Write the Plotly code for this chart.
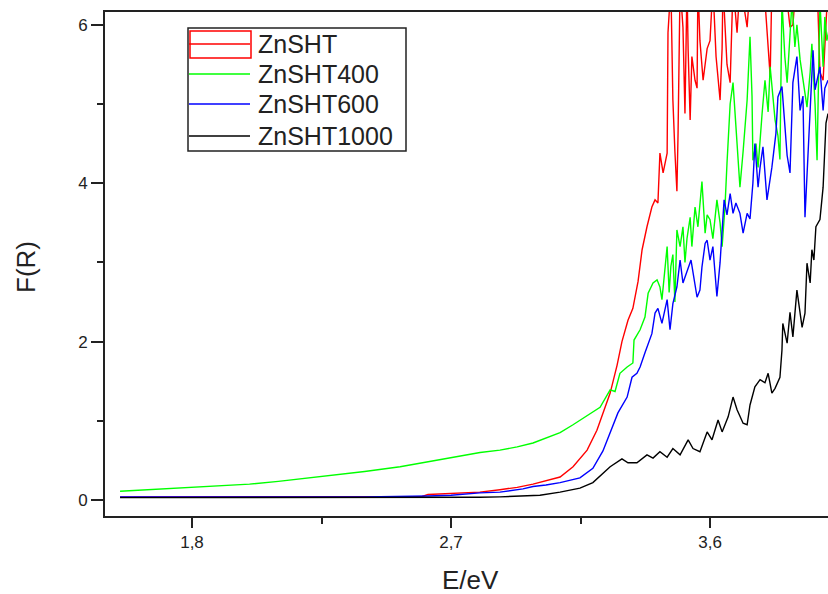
import plotly.graph_objects as go

# Kubelka-Munk function F(R) versus photon energy for the four ZnS samples
e_znsht = [1.55, 2.00, 2.40, 2.60, 2.62, 2.70, 2.80, 2.87, 2.93, 2.985, 3.03, 3.079, 3.124, 3.173,
           3.207, 3.228, 3.253, 3.277, 3.294, 3.315, 3.332, 3.350, 3.364, 3.381, 3.398, 3.409, 3.419,
           3.426, 3.437, 3.451, 3.454, 3.464, 3.471, 3.478, 3.485, 3.489, 3.496, 3.506, 3.513, 3.520,
           3.524, 3.531, 3.537, 3.548, 3.555, 3.558, 3.565, 3.576, 3.583, 3.590, 3.600, 3.610, 3.621,
           3.635, 3.642, 3.645, 3.652, 3.659, 3.670, 3.680, 3.687, 3.694, 3.704, 3.715, 3.729, 3.739,
           3.756, 3.774, 3.791, 3.798, 3.809, 3.815, 3.833, 3.850, 3.868, 3.878, 3.888, 3.899, 3.913,
           3.948, 3.965, 3.975, 3.982, 3.993, 3.999, 4.010]
f_znsht = [0.04, 0.04, 0.04, 0.045, 0.07, 0.08, 0.10, 0.13, 0.16, 0.20, 0.24, 0.29, 0.42, 0.63,
           0.88, 1.1, 1.35, 1.7, 2.0, 2.27, 2.42, 2.76, 3.16, 3.45, 3.7, 3.79, 3.75,
           4.38, 4.13, 4.38, 5.9, 6.5, 5.05, 4.4, 3.9, 4.63, 6.5, 5.97, 4.88, 6.5,
           5.68, 4.8, 5.6, 5.3, 5.2, 6.5, 5.8, 5.3, 5.5, 5.7, 5.8, 6.5, 5.6,
           5.05, 5.7, 6.5, 6.0, 5.5, 5.27, 6.5, 6.2, 5.9, 6.5, 6.3, 5.97, 6.5,
           6.6, 6.4, 6.3, 5.9, 5.35, 6.5, 6.6, 6.5, 6.3, 5.97, 6.0, 6.5, 6.7,
           6.6, 6.5, 6.2, 5.4, 5.3, 5.8, 6.5]

e_znsht400 = [1.55, 1.65, 1.758, 1.90, 2.00, 2.10, 2.175, 2.30, 2.40, 2.523, 2.62, 2.70, 2.755, 2.801,
              2.870, 2.93, 2.985, 3.03, 3.079, 3.124, 3.173, 3.218, 3.253, 3.270, 3.287, 3.312, 3.332,
              3.336, 3.357, 3.374, 3.385, 3.402, 3.416, 3.426, 3.433, 3.444, 3.451, 3.458, 3.464, 3.471,
              3.478, 3.485, 3.496, 3.506, 3.513, 3.520, 3.531, 3.537, 3.548, 3.558, 3.572, 3.583, 3.590,
              3.600, 3.610, 3.624, 3.635, 3.642, 3.652, 3.659, 3.670, 3.680, 3.687, 3.694, 3.704, 3.715,
              3.729, 3.739, 3.746, 3.749, 3.760, 3.767, 3.774, 3.781, 3.791, 3.802, 3.809, 3.819, 3.826,
              3.836, 3.843, 3.850, 3.860, 3.868, 3.878, 3.885, 3.895, 3.902, 3.913, 3.923, 3.937, 3.948,
              3.954, 3.965, 3.972, 3.982, 3.993, 3.999, 4.006, 4.017]
f_znsht400 = [0.11, 0.13, 0.155, 0.18, 0.20, 0.235, 0.265, 0.32, 0.36, 0.42, 0.48, 0.53, 0.57, 0.60,
              0.63, 0.67, 0.72, 0.78, 0.85, 0.95, 1.07, 1.17, 1.39, 1.37, 1.6, 1.68, 1.73,
              2.02, 2.15, 2.31, 2.61, 2.74, 2.78, 2.69, 2.53, 2.99, 3.2, 2.62, 2.95, 3.1,
              2.5, 3.41, 3.2, 3.45, 3.0, 3.3, 3.57, 3.2, 3.7, 3.45, 4.02, 3.37, 3.6,
              3.54, 3.3, 3.79, 3.5, 3.2, 3.7, 4.25, 5.0, 5.27, 4.9, 4.55, 3.95, 4.4,
              5.05, 5.85, 5.1, 4.29, 4.5, 4.2, 4.6, 4.88, 5.3, 4.9, 5.47, 5.1, 4.8,
              4.6, 4.3, 6.3, 5.6, 5.27, 5.8, 6.3, 5.72, 6.0, 5.56, 5.3, 4.96, 5.4,
              5.76, 5.0, 4.29, 6.3, 5.47, 6.1, 5.8, 6.0]

e_znsht600 = [1.55, 2.00, 2.40, 2.62, 2.70, 2.80, 2.87, 2.95, 2.985, 3.03, 3.079, 3.148, 3.193, 3.228,
              3.253, 3.280, 3.312, 3.329, 3.346, 3.357, 3.374, 3.385, 3.398, 3.409, 3.419, 3.433, 3.451,
              3.461, 3.471, 3.485, 3.496, 3.506, 3.520, 3.534, 3.555, 3.565, 3.572, 3.583, 3.590, 3.600,
              3.610, 3.624, 3.635, 3.649, 3.659, 3.670, 3.680, 3.690, 3.704, 3.715, 3.729, 3.739, 3.749,
              3.756, 3.767, 3.774, 3.784, 3.798, 3.815, 3.829, 3.836, 3.850, 3.868, 3.878, 3.888, 3.902,
              3.913, 3.923, 3.930, 3.948, 3.958, 3.965, 3.982, 3.993, 3.999, 4.010]
f_znsht600 = [0.04, 0.04, 0.04, 0.05, 0.06, 0.09, 0.10, 0.14, 0.17, 0.19, 0.22, 0.28, 0.40, 0.62,
              0.86, 1.1, 1.3, 1.55, 1.6, 1.68, 1.86, 1.98, 2.1, 2.36, 2.42, 2.23, 2.53,
              2.15, 2.48, 2.69, 3.03, 2.74, 2.9, 3.03, 2.56, 2.65, 2.94, 3.24, 3.28, 3.03,
              3.2, 2.57, 3.0, 3.79, 3.6, 3.87, 3.62, 3.75, 3.62, 3.37, 3.62, 3.55, 4.0,
              4.5, 3.95, 4.2, 4.46, 3.79, 4.2, 4.63, 5.09, 5.22, 4.35, 4.13, 5.27, 5.6,
              4.92, 5.1, 3.57, 5.05, 5.68, 5.18, 5.47, 4.92, 5.2, 5.3]

e_znsht1000 = [1.55, 2.00, 2.50, 2.80, 2.87, 2.95, 3.009, 3.079, 3.148, 3.193, 3.228, 3.253, 3.294, 3.315,
               3.346, 3.381, 3.402, 3.426, 3.451, 3.471, 3.496, 3.524, 3.541, 3.565, 3.590, 3.607, 3.628,
               3.642, 3.663, 3.680, 3.694, 3.715, 3.729, 3.739, 3.756, 3.774, 3.791, 3.802, 3.815, 3.826,
               3.843, 3.850, 3.853, 3.868, 3.878, 3.888, 3.902, 3.920, 3.930, 3.937, 3.948, 3.954, 3.961,
               3.968, 3.982, 3.993, 4.003, 4.010]
f_znsht1000 = [0.03, 0.03, 0.03, 0.035, 0.04, 0.05, 0.06, 0.10, 0.15, 0.22, 0.33, 0.42, 0.52, 0.47,
               0.47, 0.57, 0.53, 0.61, 0.54, 0.65, 0.57, 0.76, 0.65, 0.61, 0.86, 0.76, 1.01,
               0.86, 1.05, 1.3, 1.14, 0.97, 0.95, 1.2, 1.43, 1.52, 1.48, 1.6, 1.35, 1.41,
               1.55, 1.89, 2.23, 1.98, 2.37, 2.06, 2.65, 2.18, 2.36, 2.99, 2.74, 3.16, 3.03,
               3.45, 3.54, 3.95, 4.76, 4.88]

series_names = ["ZnSHT", "ZnSHT400", "ZnSHT600", "ZnSHT1000"]
series_colors = ["#ff0000", "#00ff00", "#0000ff", "#000000"]
series_data = [(e_znsht, f_znsht), (e_znsht400, f_znsht400),
               (e_znsht600, f_znsht600), (e_znsht1000, f_znsht1000)]

x_ticks = [1.8, 2.7, 3.6]
x_tick_labels = ["1,8", "2,7", "3,6"]
y_ticks = [0, 2, 4, 6]
y_tick_labels = ["0", "2", "4", "6"]

W, H = 828, 594
ML, MR, MT, MB = 105, 0, 12, 78
PW, PH = W - ML - MR, H - MT - MB


def px_x(p):
    return (p - ML) / PW


def px_y(p):
    return (H - MB - p) / PH


fig = go.Figure()
for (e, f), name, col in zip(series_data, series_names, series_colors):
    assert len(e) == len(f)
    fig.add_trace(go.Scatter(x=e, y=f, mode="lines", name=name,
                             line=dict(color=col, width=1.4), showlegend=False,
                             hoverinfo="skip"))

axis_col = "#222222"
font_family = "Liberation Sans, Arial, sans-serif"

fig.update_layout(
    width=W, height=H, autosize=False,
    margin=dict(l=ML, r=MR, t=MT, b=MB, pad=0),
    paper_bgcolor="white", plot_bgcolor="white",
    xaxis=dict(range=[1.4977, 4.010], showgrid=False, zeroline=False,
               showline=True, linecolor=axis_col, linewidth=2, mirror=True,
               ticks="outside", ticklen=10, tickwidth=1.5, tickcolor=axis_col,
               tickvals=x_ticks, ticktext=x_tick_labels,
               tickfont=dict(family=font_family, size=17, color=axis_col),
               minor=dict(dtick=0.45, tick0=1.8, ticks="outside", ticklen=6,
                          tickwidth=1.5, tickcolor=axis_col, showgrid=False)),
    yaxis=dict(range=[-0.202, 6.162], showgrid=False, zeroline=False,
               showline=True, linecolor=axis_col, linewidth=2, mirror=False,
               ticks="outside", ticklen=12, tickwidth=1.5, tickcolor=axis_col,
               tickvals=y_ticks, ticktext=y_tick_labels,
               tickfont=dict(family=font_family, size=17, color=axis_col),
               minor=dict(dtick=1, tick0=0, ticks="outside", ticklen=6,
                          tickwidth=1.5, tickcolor=axis_col, showgrid=False)),
)

title_font = dict(family=font_family, size=26, color=axis_col)
fig.add_annotation(x=px_x(470), y=px_y(580), xref="paper", yref="paper",
                   text="E/eV", showarrow=False, font=title_font,
                   xanchor="center", yanchor="middle")
fig.add_annotation(x=px_x(26), y=px_y(267), xref="paper", yref="paper",
                   text="F(R)", showarrow=False, font=title_font, textangle=-90,
                   xanchor="center", yanchor="middle")

# legend box drawn by hand
fig.add_shape(type="rect", xref="paper", yref="paper",
              x0=px_x(188), x1=px_x(406), y0=px_y(151), y1=px_y(28),
              line=dict(color=axis_col, width=1.5), fillcolor="rgba(0,0,0,0)")
legend_rows = [44, 74, 104, 136]
leg_font = dict(family=font_family, size=25, color=axis_col)
for row, name, col in zip(legend_rows, series_names, series_colors):
    if name == "ZnSHT":
        fig.add_shape(type="rect", xref="paper", yref="paper",
                      x0=px_x(190), x1=px_x(251), y0=px_y(58), y1=px_y(31),
                      line=dict(color=col, width=1.5), fillcolor="rgba(0,0,0,0)")
    fig.add_shape(type="line", xref="paper", yref="paper",
                  x0=px_x(189), x1=px_x(250), y0=px_y(row), y1=px_y(row),
                  line=dict(color=col, width=1.5))
    fig.add_annotation(x=px_x(256), y=px_y(row), xref="paper", yref="paper",
                       text=name, showarrow=False, font=leg_font,
                       xanchor="left", yanchor="middle")

fig.write_html("out.html", config={"displayModeBar": False})
